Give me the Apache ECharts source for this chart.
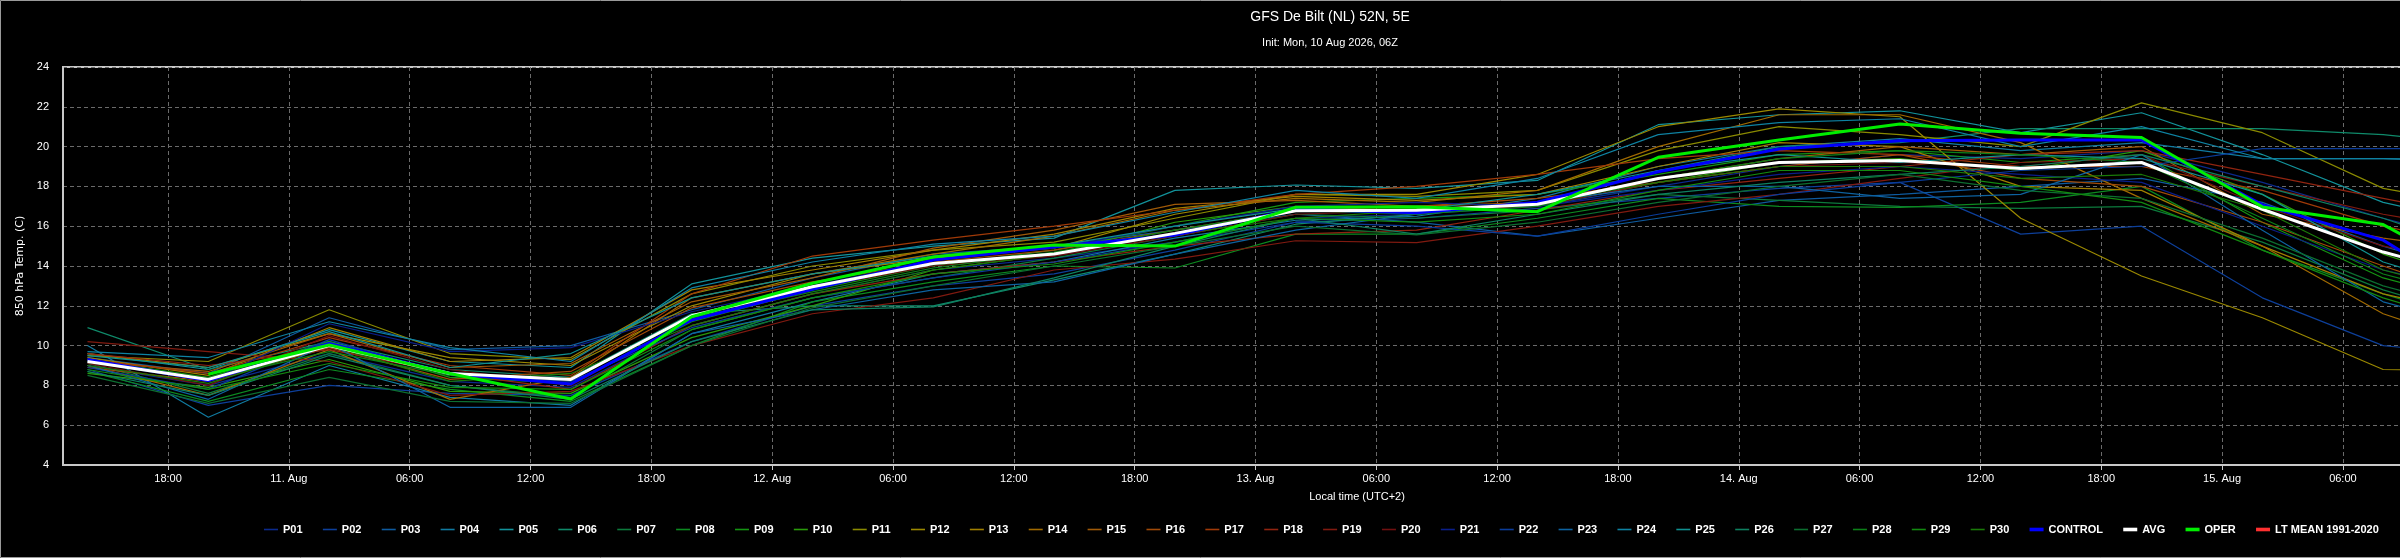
<!DOCTYPE html>
<html><head><meta charset="utf-8">
<script src="https://cdn.jsdelivr.net/npm/echarts@6/dist/echarts.min.js"></script>
<style>html,body{margin:0;padding:0;background:#000;overflow:hidden;} #c{width:2400px;height:558px;}</style>
</head><body><div id="c"></div>
<script>
// Forecast times (local time, UTC+2)
const timeLabels = ['2026-08-10 14:00','2026-08-10 20:00','2026-08-11 02:00','2026-08-11 08:00','2026-08-11 14:00','2026-08-11 20:00',
  '2026-08-12 02:00','2026-08-12 08:00','2026-08-12 14:00','2026-08-12 20:00','2026-08-13 02:00','2026-08-13 08:00','2026-08-13 14:00',
  '2026-08-13 20:00','2026-08-14 02:00','2026-08-14 08:00','2026-08-14 14:00','2026-08-14 20:00','2026-08-15 02:00','2026-08-15 08:00','2026-08-15 14:00'];
const axisStart = '2026-08-10 12:47';
const axisEnd = '2026-08-15 21:18';
const monthNames = ['Jan','Feb','Mar','Apr','May','Jun','Jul','Aug','Sep','Oct','Nov','Dec'];
const yMin = 4, yMax = 24, yStep = 2;

const P01 = [9.0,8.0,9.6,8.2,7.9,11.0,12.6,13.8,14.4,15.2,16.4,16.6,17.0,18.0,19.0,19.6,19.4,19.8,18.2,16.4,14.8];
const P02 = [8.8,7.0,8.0,7.6,7.5,10.2,12.0,13.0,13.6,14.8,16.2,16.4,16.9,17.4,17.9,18.2,15.6,16.0,12.4,10.0,9.4];
const P03 = [9.4,8.6,11.4,9.8,10.0,11.8,13.4,14.6,15.0,15.8,16.6,16.2,15.5,16.4,17.3,17.6,18.0,18.4,17.2,15.0,13.2];
const P04 = [10.0,6.4,9.0,7.4,7.0,10.6,12.2,13.6,14.2,15.4,16.3,16.5,17.4,19.0,20.0,20.4,19.8,20.2,19.4,19.4,19.2];
const P05 = [9.6,8.8,10.8,9.2,8.9,13.1,14.4,15.0,15.4,17.8,18.07,17.9,18.3,21.1,21.6,21.8,20.7,21.7,19.6,17.2,15.8];
const P06 = [10.9,8.8,10.2,8.8,8.4,11.6,12.0,12.0,13.3,14.6,16.1,16.6,17.2,18.8,20.0,20.2,20.9,20.9,20.9,20.6,20.0];
const P07 = [9.1,7.6,9.6,8.0,7.4,10.8,12.4,13.4,14.4,15.5,16.6,16.4,16.8,17.6,17.3,17.0,16.9,17.0,15.2,12.8,11.0];
const P08 = [8.7,7.2,8.8,7.8,7.2,10.0,12.2,13.2,14.0,13.9,15.6,15.6,16.4,17.4,17.0,16.95,17.2,18.0,14.8,12.6,10.8];
const P09 = [9.3,8.4,10.2,8.4,8.1,11.2,12.8,14.0,14.8,16.0,17.2,17.4,17.6,18.6,19.6,19.8,19.2,19.6,16.2,13.4,11.8];
const P10 = [8.6,7.9,9.3,7.7,7.6,10.4,12.0,13.8,14.6,16.2,17.0,16.9,17.0,18.2,19.2,19.4,18.8,19.8,17.6,14.6,12.6];
const P11 = [9.5,9.2,11.8,9.6,9.3,12.6,14.0,14.8,15.2,16.4,17.6,17.5,17.8,19.8,21.0,20.6,20.0,22.2,20.7,17.9,16.8];
const P12 = [9.6,8.9,10.6,9.4,9.0,12.0,13.6,14.4,14.9,16.6,17.6,17.6,18.6,21.0,21.9,21.5,16.4,13.5,11.4,8.8,8.7];
const P13 = [9.4,8.5,10.9,9.2,9.4,12.8,13.8,14.8,15.6,16.9,17.5,17.3,17.6,19.0,20.2,20.0,18.0,17.8,15.0,12.6,11.2];
const P14 = [9.0,7.5,9.8,7.3,8.4,12.4,13.6,14.6,15.5,16.8,17.4,17.2,17.8,20.0,21.6,21.6,20.2,17.4,15.0,11.6,9.6];
const P15 = [9.2,8.7,10.6,8.9,9.1,12.2,13.4,14.9,15.8,17.1,17.3,17.0,17.2,18.4,19.4,20.0,19.6,20.0,16.6,15.4,14.6];
const P16 = [8.9,8.2,9.9,8.3,8.7,11.9,13.2,14.2,14.8,15.8,16.8,17.0,17.4,18.2,19.0,19.6,18.4,18.0,16.2,14.0,12.0];
const P17 = [9.3,8.6,10.4,9.0,8.5,12.6,14.5,15.3,16.0,16.8,17.6,18.0,18.6,19.4,19.8,19.6,19.0,19.0,17.8,16.0,14.8];
const P18 = [9.6,9.0,9.8,8.6,7.8,11.0,12.6,13.6,14.2,15.0,15.6,15.8,16.8,17.8,18.4,19.0,19.6,19.8,18.6,17.4,16.2];
const P19 = [10.2,9.7,9.2,7.5,7.7,10.0,11.6,12.4,13.8,14.35,15.27,15.17,16.0,17.0,17.6,18.4,19.2,19.4,18.0,16.6,15.6];
const P20 = [9.1,8.0,10.5,8.8,8.0,11.3,12.9,14.0,14.5,15.5,16.6,16.8,17.0,18.2,19.0,19.2,19.0,19.6,17.0,15.0,13.8];
const P21 = [9.2,8.2,11.1,9.7,9.9,11.7,13.0,14.3,14.9,16.0,17.0,17.2,17.0,17.8,18.6,19.0,18.6,18.2,16.0,13.8,12.4];
const P22 = [8.9,7.8,10.3,8.5,8.2,10.9,12.4,13.4,14.2,15.2,16.2,16.0,15.5,16.6,17.6,18.2,18.8,19.0,19.9,19.9,19.9];
const P23 = [9.0,7.3,10.1,6.9,6.9,10.6,11.8,12.8,13.2,14.6,15.8,16.6,17.2,18.0,18.0,17.4,17.6,19.6,15.8,12.2,10.6];
const P24 = [9.7,9.4,11.2,9.9,9.2,12.9,14.2,15.1,15.5,16.7,17.8,17.4,18.4,20.6,21.2,21.4,20.0,21.0,19.4,19.4,19.3];
const P25 = [9.5,8.9,10.7,8.9,9.6,12.4,13.6,14.5,15.0,16.0,16.9,16.8,17.6,18.8,19.6,19.2,19.6,19.4,17.6,14.2,12.4];
const P26 = [8.7,7.5,9.5,8.0,7.3,10.2,11.8,11.95,13.4,15.0,16.4,15.6,16.6,17.6,18.2,18.6,19.0,19.6,18.0,16.4,14.4];
const P27 = [8.5,7.1,8.4,7.2,7.1,10.0,11.9,13.0,14.0,15.0,16.0,15.56,16.2,17.2,18.0,18.6,17.8,17.4,15.4,13.0,11.4];
const P28 = [9.2,8.3,9.7,8.5,8.3,11.4,12.7,13.9,14.7,15.8,16.8,16.6,17.0,18.4,19.4,19.8,19.6,19.2,16.4,13.6,12.0];
const P29 = [8.8,7.8,9.1,7.9,7.8,10.8,12.4,13.6,14.1,15.2,16.4,16.2,16.6,17.8,18.8,18.8,18.0,17.2,14.8,12.4,10.6];
const P30 = [9.0,8.1,10.0,8.2,8.6,11.0,12.6,13.8,14.6,15.6,16.4,16.8,17.2,18.2,19.0,19.0,18.4,18.6,16.8,13.8,12.2];
const CONTROL = [9.3,8.24,10.11,8.6,8.07,11.29,12.83,14.3,14.97,15.55,16.85,16.67,17.2,18.74,19.88,20.3,20.33,20.33,17.07,15.3,11.6];
const AVG = [9.2,8.3,10.0,8.6,8.3,11.5,12.96,14.13,14.6,15.64,16.78,16.8,17.1,18.4,19.2,19.3,18.9,19.2,16.85,14.7,13.1];
const OPER = [null,8.56,10.03,8.6,7.32,11.45,13.13,14.45,15.05,15.0,16.95,16.98,16.73,19.46,20.33,21.14,20.67,20.46,16.97,16.08,12.8];
const LT_MEAN = [];

const memberNames = ['P01','P02','P03','P04','P05','P06','P07','P08','P09','P10','P11','P12','P13','P14','P15',
  'P16','P17','P18','P19','P20','P21','P22','P23','P24','P25','P26','P27','P28','P29','P30'];
const memberValues = [P01,P02,P03,P04,P05,P06,P07,P08,P09,P10,P11,P12,P13,P14,P15,P16,P17,P18,P19,P20,P21,P22,P23,P24,P25,P26,P27,P28,P29,P30];
const memberColors = ['#0b2a8c','#0d3f9a','#0e5a9e','#107aa0','#12929a','#0f8a6a','#0c7a3c','#0c8a20','#149412','#2a9a0a',
  '#8a8a00','#9a8800','#a07f00','#a06a00','#a05a08','#a04a08','#a03a08','#902410','#801a10','#701010',
  '#0a1e8a','#0a3c9a','#0d62a0','#0e82a2','#109090','#0e8060','#0c6e30','#0c8018','#128a10','#1a7a08'];

function parseT(s) {
  const [d, t] = s.split(' ');
  const [y, m, dd] = d.split('-').map(Number);
  const [hh, mm] = t.split(':').map(Number);
  return Date.UTC(y, m - 1, dd, hh, mm);
}
const times = timeLabels.map(parseT);
const toData = arr => times.map((t, i) => [t, arr[i] === undefined ? null : arr[i]]);
const pad = n => (n < 10 ? '0' : '') + n;

const series = memberNames.map((name, i) => ({
  name, type: 'line', data: toData(memberValues[i]), symbol: 'none', showSymbol: false,
  lineStyle: { width: 1.2, color: memberColors[i] }, itemStyle: { color: memberColors[i] },
  z: 2, silent: true
}));
series.push({ name: 'CONTROL', type: 'line', data: toData(CONTROL), symbol: 'none', lineStyle: { width: 3, color: '#0000ff' }, itemStyle: { color: '#0000ff' }, z: 3 });
series.push({ name: 'AVG', type: 'line', data: toData(AVG), symbol: 'none', lineStyle: { width: 3, color: '#ffffff' }, itemStyle: { color: '#ffffff' }, z: 4 });
series.push({ name: 'OPER', type: 'line', data: toData(OPER), symbol: 'none', lineStyle: { width: 3, color: '#00ee00' }, itemStyle: { color: '#00ee00' }, z: 5 });
series.push({ name: 'LT MEAN 1991-2020', type: 'line', data: LT_MEAN, symbol: 'none', lineStyle: { width: 3, color: '#ff3030' }, itemStyle: { color: '#ff3030' }, z: 5 });

const thin = 'path://M0,0h14v1.6h-14z';
const thick = 'path://M0,0h14v3.6h-14z';
const legendData = memberNames.map(n => ({ name: n, icon: thin }))
  .concat(['CONTROL', 'AVG', 'OPER', 'LT MEAN 1991-2020'].map(n => ({ name: n, icon: thick })));

const chart = echarts.init(document.getElementById('c'), null, { renderer: 'canvas' });
chart.setOption({
  backgroundColor: '#000000',
  animation: false,
  useUTC: true,
  textStyle: { fontFamily: 'Liberation Sans, Arial, sans-serif' },
  graphic: [
    { type: 'rect', shape: { x: 0.5, y: 0.5, width: 2600, height: 557 }, style: { fill: 'none', stroke: '#9a9a9a', lineWidth: 1 }, silent: true },
    { type: 'text', x: 1330, y: 17, style: { text: 'GFS De Bilt (NL) 52N, 5E', fill: '#ffffff', font: '14px "Liberation Sans", Arial, sans-serif', textAlign: 'center', textVerticalAlign: 'middle' } },
    { type: 'text', x: 1330, y: 43, style: { text: 'Init: Mon, 10 Aug 2026, 06Z', fill: '#ffffff', font: '11px "Liberation Sans", Arial, sans-serif', textAlign: 'center', textVerticalAlign: 'middle' } }
  ],
  grid: { left: 63, top: 67, width: 2588, height: 398, outerBoundsMode: 'none', containLabel: false, show: true, borderColor: '#c8c8c8', borderWidth: 2, backgroundColor: 'transparent' },
  legend: {
    data: legendData, left: 264, top: 524, width: 2300, padding: 0, itemWidth: 14, itemHeight: 4, itemGap: 20.3,
    symbolKeepAspect: true,
    textStyle: { color: '#ffffff', fontSize: 11, fontWeight: 'bold', fontFamily: 'Liberation Sans, Arial, sans-serif', padding: [0, 0, 0, 0] }
  },
  xAxis: {
    type: 'time', min: parseT(axisStart), max: parseT(axisEnd), splitNumber: 15,
    name: 'Local time (UTC+2)', nameLocation: 'middle', nameGap: 26,
    nameTextStyle: { color: '#ffffff', fontSize: 11 },
    axisLine: { show: true, lineStyle: { color: '#c8c8c8', width: 2 } },
    axisTick: { show: true, length: 5, lineStyle: { color: '#c8c8c8' } },
    splitLine: { show: true, lineStyle: { color: '#6a6a6a', type: [4, 3], width: 1 } },
    axisLabel: {
      color: '#ffffff', fontSize: 11, margin: 8, hideOverlap: false,
      formatter: function (v) {
        const d = new Date(v);
        if (d.getUTCHours() === 0 && d.getUTCMinutes() === 0) return d.getUTCDate() + '. ' + monthNames[d.getUTCMonth()];
        return pad(d.getUTCHours()) + ':' + pad(d.getUTCMinutes());
      }
    }
  },
  yAxis: {
    type: 'value', min: yMin, max: yMax, interval: yStep,
    name: '850 hPa Temp. (C)', nameLocation: 'middle', nameGap: 36,
    nameTextStyle: { color: '#ffffff', fontSize: 11, fontFamily: 'DejaVu Sans, sans-serif' },
    axisLine: { show: true, lineStyle: { color: '#c8c8c8', width: 2 } },
    axisTick: { show: false },
    splitLine: { show: true, lineStyle: { color: '#6a6a6a', type: [4, 3], width: 1 } },
    axisLabel: { color: '#ffffff', fontSize: 11, margin: 14 }
  },
  series
});
</script></body></html>
